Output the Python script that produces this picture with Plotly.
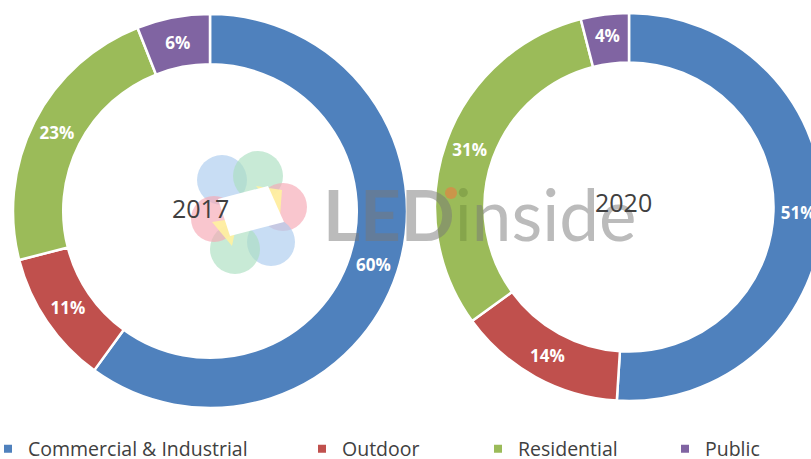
import plotly.graph_objects as go

# Market share of LED lighting applications, 2017 vs 2020 (%)
categories = ["Commercial & Industrial", "Outdoor", "Residential", "Public"]
share_2017 = [60, 11, 23, 6]
share_2020 = [51, 14, 31, 4]
years = ["2017", "2020"]
colors = ["#4F81BD", "#C0504D", "#9BBB59", "#8064A2"]

# canvas is a little wider than the window so the right ring runs off the edge
W, H = 830, 459


def px_x(x):
    return x / W


def px_y(y):
    return 1 - y / H


def ring_domain(cx, cy, r):
    return dict(x=[px_x(cx - r), px_x(cx + r)], y=[px_y(cy + r), px_y(cy - r)])


fig = go.Figure()

rings = [(share_2017, (210, 211, 197)), (share_2020, (629, 207, 194))]
for values, (cx, cy, r) in rings:
    fig.add_trace(go.Pie(
        labels=categories,
        values=values,
        sort=False,
        direction="clockwise",
        rotation=0,
        hole=0.745,
        marker=dict(colors=colors, line=dict(color="white", width=2.5)),
        texttemplate="%{value}%",
        textposition="inside",
        insidetextorientation="horizontal",
        textfont=dict(family="Open Sans", size=17, color="white", weight="bold"),
        showlegend=False,
        domain=ring_domain(cx, cy, r),
        hoverinfo="label+value",
    ))

# one legend per category so the entries can be spaced like the original layout
legend_text_x = [26, 340, 516, 703]
legend_names = ["legend", "legend2", "legend3", "legend4"]
for cat, col, lg in zip(categories, colors, legend_names):
    fig.add_trace(go.Scatter(
        x=[None], y=[None], mode="markers", name=cat, legend=lg,
        marker=dict(symbol="square", size=8, color=col),
        showlegend=True, hoverinfo="skip",
    ))

legend_style = dict(
    orientation="h", xanchor="left", yanchor="middle", y=px_y(449),
    bgcolor="rgba(0,0,0,0)", borderwidth=0,
    font=dict(family="Open Sans", size=19.5, color="#404040"),
)
legend_layout = {}
for lg, tx in zip(legend_names, legend_text_x):
    legend_layout[lg] = dict(legend_style, x=px_x(tx - 38))

# watermark flower logo
petals = [
    (222, 180, 25, "rgba(170,203,238,0.65)"),
    (258, 176, 25, "rgba(170,222,192,0.65)"),
    (283, 207, 24, "rgba(246,168,180,0.65)"),
    (271, 242, 24, "rgba(170,203,238,0.65)"),
    (235, 249, 25, "rgba(170,222,192,0.65)"),
    (214, 219, 23, "rgba(246,168,180,0.65)"),
]
shapes = []
for cx, cy, r, c in petals:
    shapes.append(dict(
        type="circle", xref="paper", yref="paper",
        x0=px_x(cx - r), x1=px_x(cx + r), y0=px_y(cy + r), y1=px_y(cy - r),
        fillcolor=c, line=dict(width=0), layer="above",
    ))
# yellow corners and white centre of the logo
tri1 = [(256, 186), (282, 190), (280, 216)]
tri2 = [(212, 222), (238, 218), (232, 246)]
centre = [(218, 199), (268, 186), (284, 222), (230, 236)]


def poly(pts):
    return "M " + " L ".join(f"{px_x(x)},{px_y(y)}" for x, y in pts) + " Z"


for pts, c in [(tri1, "rgba(255,242,160,0.9)"), (tri2, "rgba(255,242,160,0.9)"),
               (centre, "white")]:
    shapes.append(dict(type="path", xref="paper", yref="paper", path=poly(pts),
                       fillcolor=c, line=dict(width=0), layer="above"))
# orange dot of the brand "i"
shapes.append(dict(type="circle", xref="paper", yref="paper",
                   x0=px_x(445), x1=px_x(457), y0=px_y(199), y1=px_y(187),
                   fillcolor="rgba(215,140,70,0.8)", line=dict(width=0), layer="above"))

annotations = [
    dict(x=px_x(479), y=px_y(213), xref="paper", yref="paper", showarrow=False,
         xanchor="center", yanchor="middle",
         text="<b>LED</b><span style='color:rgba(95,125,50,0.7)'>i</span>nside",
         font=dict(family="Lato", size=71, color="rgba(120,120,120,0.5)")),
    dict(x=px_x(200), y=px_y(208), xref="paper", yref="paper", showarrow=False,
         xanchor="center", yanchor="middle",
         text=years[0], font=dict(family="Open Sans", size=25, color="#404040")),
    dict(x=px_x(623), y=px_y(202), xref="paper", yref="paper", showarrow=False,
         xanchor="center", yanchor="middle",
         text=years[1], font=dict(family="Open Sans", size=25, color="#404040")),
]

fig.update_layout(
    width=W, height=H,
    margin=dict(l=0, r=0, t=0, b=0, autoexpand=False),
    paper_bgcolor="white", plot_bgcolor="white",
    xaxis=dict(visible=False), yaxis=dict(visible=False),
    uniformtext=dict(minsize=17, mode="show"),
    shapes=shapes, annotations=annotations,
    **legend_layout,
)

fig.write_html(
    "out.html",
    post_script="document.body.style.overflow='hidden';"
                "document.documentElement.style.overflow='hidden';",
)
